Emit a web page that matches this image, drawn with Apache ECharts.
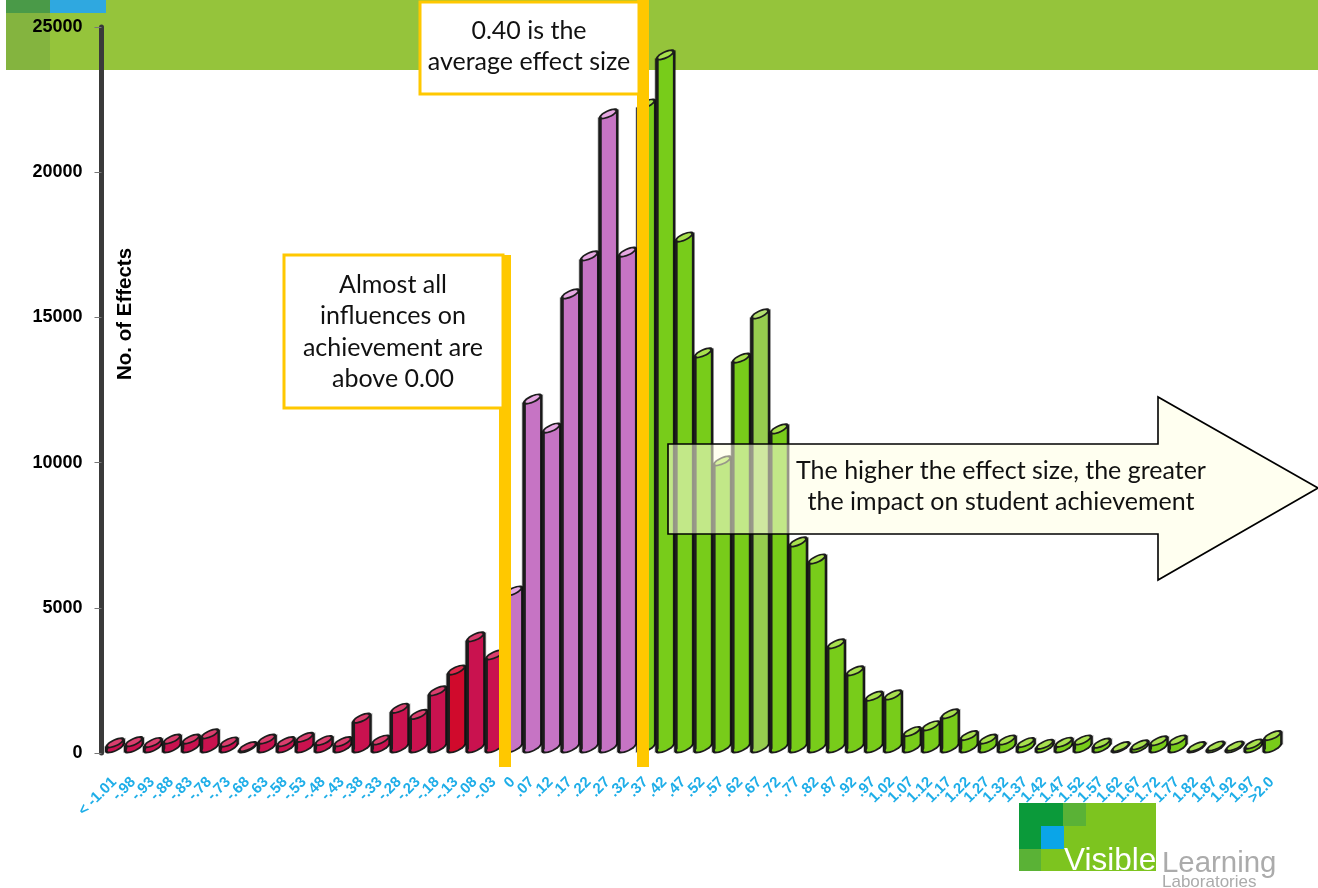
<!doctype html>
<html>
<head>
<meta charset="UTF-8">
<title>No. of Effects</title>
<style>
    html, body { margin: 0; padding: 0; background: #fff; }
    #chart { width: 1318px; height: 888px; }
</style>
<script src="https://cdn.jsdelivr.net/npm/echarts@6/dist/echarts.min.js"></script>
</head>
<body>
<div id="chart"></div>
<script type="text/javascript">
var categories = ['< -1.01', '-.98', '-.93', '-.88', '-.83', '-.78', '-.73', '-.68', '-.63', '-.58', '-.53',
    '-.48', '-.43', '-.38', '-.33', '-.28', '-.23', '-.18', '-.13', '-.08', '-.03', '0',
    '.07', '.12', '.17', '.22', '.27', '.32', '.37', '.42', '.47', '.52', '.57', '.62', '.67', '.72',
    '.77', '.82', '.87', '.92', '.97', '1.02', '1.07', '1.12', '1.17', '1.22', '1.27', '1.32', '1.37',
    '1.42', '1.47', '1.52', '1.57', '1.62', '1.67', '1.72', '1.77', '1.82', '1.87', '1.92', '1.97', '>2.0'];
var effects = [520, 560, 530, 650, 650, 830, 550, 390, 650, 560, 710,
    600, 560, 1370, 620, 1710, 1500, 2310, 3030, 4170, 3550, 5750,
    12360, 11360, 15980, 17290, 22180, 17420, 22520, 24210, 17940, 13950, 10230, 13770, 15290, 11330,
    7440, 6850, 3930, 3000, 2130, 2170, 910, 1110, 1520, 770, 650, 620, 530,
    470, 540, 620, 510, 390, 450, 590, 620, 390, 410, 410, 480, 770];
var yTicks = [0, 5000, 10000, 15000, 20000, 25000];

// colour bands of the bars, by category
var negativeBars = categories.slice(0, 21);
var lowBars = categories.slice(21, 28);
var brightBar = '-.13';
var paleBar = '.67';

function barColor(name) {
    if (name === brightBar) return { body: '#D00A2C', top: '#E02A4C' };
    if (negativeBars.indexOf(name) >= 0) return { body: '#C9124F', top: '#DA3F6E' };
    if (lowBars.indexOf(name) >= 0) return { body: '#C674C4', top: '#E6A8E2' };
    if (name === paleBar) return { body: '#96CC4E', top: '#B4E070' };
    return { body: '#78CC1A', top: '#A8E04E' };
}

var tilt = 5;        // half the height of a tilted top
var slope = 4;       // rise across half a bar
var outline = '#1c1c1c';

function renderBar(params, api) {
    var i = api.value(0);
    var top = api.coord([i, api.value(1)]);
    var base = api.coord([i, 0]);
    var cx = top[0];
    var topY = top[1] + tilt;
    var baseY = Math.max(base[1] - tilt, topY);
    var c = barColor(categories[i]);
    var ellipseRot = 25 * Math.PI / 180;

    return {
        type: 'group',
        children: [
            // dark backing, shows at the sides
            { type: 'ellipse', x: cx, y: baseY, rotation: ellipseRot,
                shape: { cx: 0, cy: 0, rx: 10.5, ry: 3.6 }, style: { fill: outline } },
            { type: 'polygon', shape: { points: [
                [cx - 10, topY + slope], [cx + 10, topY - slope],
                [cx + 10, baseY - slope], [cx - 10, baseY + slope]
            ] }, style: { fill: outline, stroke: 'rgba(0,0,0,0.3)', lineWidth: 1.5 } },
            // body
            { type: 'ellipse', x: cx, y: baseY - 0.5, rotation: ellipseRot,
                shape: { cx: 0, cy: 0, rx: 8, ry: 2.4 }, style: { fill: c.body } },
            { type: 'polygon', shape: { points: [
                [cx - 6.6, topY + slope], [cx + 7.6, topY - slope],
                [cx + 7.6, baseY - slope], [cx - 6.6, baseY + slope - 1]
            ] }, style: { fill: c.body } },
            // tilted top
            { type: 'ellipse', x: cx, y: topY, rotation: ellipseRot,
                shape: { cx: 0, cy: 0, rx: 10.5, ry: 3.8 }, style: { fill: outline } },
            { type: 'ellipse', x: cx, y: topY, rotation: ellipseRot,
                shape: { cx: 0, cy: 0, rx: 7.6, ry: 2.1 }, style: { fill: c.top } }
        ]
    };
}

var barData = effects.map(function (v, i) { return [i, v]; });

var myChart = echarts.init(document.getElementById('chart'), null, { renderer: 'canvas' });

var boxFont = 'Lato, "Open Sans", sans-serif';

var option = {
    animation: false,
    backgroundColor: '#fff',
    grid: { left: 105.5, right: 36, top: 27, bottom: 135 },
    xAxis: {
        type: 'category',
        data: categories,
        axisLine: { show: false },
        axisTick: { show: false },
        axisLabel: {
            interval: 0,
            rotate: 45,
            margin: 26,
            padding: [0, 1, 0, 0],
            color: '#1FAEE8',
            fontFamily: '"Liberation Sans", Arial, sans-serif',
            fontWeight: 'bold',
            fontSize: 15
        }
    },
    yAxis: {
        type: 'value',
        min: yTicks[0],
        max: yTicks[yTicks.length - 1],
        interval: yTicks[1] - yTicks[0],
        offset: 4,
        splitLine: { show: false },
        axisLine: { show: true, lineStyle: { color: '#3a3a3a', width: 5 } },
        axisTick: { show: true, length: 7, lineStyle: { color: '#777', width: 1 } },
        axisLabel: {
            margin: 19,
            color: '#000',
            formatter: function (v) { return String(v); },
            fontFamily: '"Liberation Sans", Arial, sans-serif',
            fontWeight: 'bold',
            fontSize: 18
        }
    },
    series: [{
        type: 'custom',
        name: 'No. of Effects',
        renderItem: renderBar,
        clip: false,
        encode: { x: 0, y: 1 },
        data: barData,
        z: 3
    }],
    graphic: [
        // banner behind the chart
        { type: 'rect', z: 0, shape: { x: 6, y: 0, width: 1312, height: 70 }, style: { fill: '#95C43B' } },
        { type: 'rect', z: 0, shape: { x: 6, y: 13, width: 44, height: 57 }, style: { fill: '#84B43F' } },
        { type: 'rect', z: 0, shape: { x: 6, y: 0, width: 44, height: 13 }, style: { fill: '#4A9A48' } },
        { type: 'rect', z: 0, shape: { x: 50, y: 0, width: 56, height: 13 }, style: { fill: '#2FA8E0' } },

        { type: 'text', z: 5, x: 125.5, y: 314, rotation: Math.PI / 2,
            style: { text: 'No. of Effects', fill: '#000', align: 'center', verticalAlign: 'middle',
                font: 'bold 20.5px "Liberation Sans", Arial, sans-serif' } },

        // yellow marker lines
        { type: 'rect', z: 20, shape: { x: 499, y: 255, width: 12, height: 512 }, style: { fill: '#FFC800' } },
        { type: 'rect', z: 20, shape: { x: 637, y: 0, width: 12, height: 767 }, style: { fill: '#FFC800' } },

        // call-out boxes
        { type: 'rect', z: 21, shape: { x: 420, y: 2, width: 219, height: 92 },
            style: { fill: '#fff', stroke: '#FFC800', lineWidth: 3 } },
        { type: 'text', z: 22, x: 529, y: 31, style: { text: '0.40 is the', fill: '#111', align: 'center', verticalAlign: 'middle', font: '25px ' + boxFont } },
        { type: 'text', z: 22, x: 529, y: 62, style: { text: 'average effect size', fill: '#111', align: 'center', verticalAlign: 'middle', font: '25px ' + boxFont } },

        { type: 'rect', z: 21, shape: { x: 284, y: 255, width: 219, height: 153 },
            style: { fill: '#fff', stroke: '#FFC800', lineWidth: 3 } },
        { type: 'text', z: 22, x: 393, y: 285, style: { text: 'Almost all', fill: '#111', align: 'center', verticalAlign: 'middle', font: '25px ' + boxFont } },
        { type: 'text', z: 22, x: 393, y: 316, style: { text: 'influences on', fill: '#111', align: 'center', verticalAlign: 'middle', font: '25px ' + boxFont } },
        { type: 'text', z: 22, x: 393, y: 348, style: { text: 'achievement are', fill: '#111', align: 'center', verticalAlign: 'middle', font: '25px ' + boxFont } },
        { type: 'text', z: 22, x: 393, y: 379, style: { text: 'above 0.00', fill: '#111', align: 'center', verticalAlign: 'middle', font: '25px ' + boxFont } },

        // arrow
        { type: 'polygon', z: 23,
            shape: { points: [[668, 444], [1158, 444], [1158, 397], [1318, 488], [1158, 580], [1158, 534], [668, 534]] },
            style: { fill: 'rgba(255,255,228,0.55)', stroke: '#000', lineWidth: 1.6 } },
        { type: 'text', z: 24, x: 1001, y: 471, style: { text: 'The higher the effect size, the greater', fill: '#111', align: 'center', verticalAlign: 'middle', font: '25px ' + boxFont } },
        { type: 'text', z: 24, x: 1001, y: 502, style: { text: 'the impact on student achievement', fill: '#111', align: 'center', verticalAlign: 'middle', font: '25px ' + boxFont } },

        // logo
        { type: 'rect', z: 5, shape: { x: 1019, y: 803, width: 137, height: 68 }, style: { fill: '#7DC41F' } },
        { type: 'rect', z: 5, shape: { x: 1019, y: 803, width: 44, height: 23 }, style: { fill: '#0B9A3A' } },
        { type: 'rect', z: 5, shape: { x: 1019, y: 826, width: 22, height: 23 }, style: { fill: '#0B9A3A' } },
        { type: 'rect', z: 5, shape: { x: 1041, y: 826, width: 23, height: 23 }, style: { fill: '#0AA5E8' } },
        { type: 'rect', z: 5, shape: { x: 1063, y: 803, width: 23, height: 23 }, style: { fill: '#5AB236' } },
        { type: 'rect', z: 5, shape: { x: 1019, y: 849, width: 22, height: 22 }, style: { fill: '#5AB236' } },
        { type: 'text', z: 6, x: 1064, y: 877, style: { text: 'Visible', fill: '#fff', align: 'left', verticalAlign: 'bottom', font: '31.5px "Liberation Sans", Arial, sans-serif' } },
        { type: 'text', z: 6, x: 1162, y: 878, style: { text: 'Learning', fill: '#ABABAB', align: 'left', verticalAlign: 'bottom', font: '29.4px "Liberation Sans", Arial, sans-serif' } },
        { type: 'text', z: 6, x: 1162, y: 891, style: { text: 'Laboratories', fill: '#ABABAB', align: 'left', verticalAlign: 'bottom', font: '17px "Liberation Sans", Arial, sans-serif' } }
    ]
};

myChart.setOption(option);
</script>
</body>
</html>
